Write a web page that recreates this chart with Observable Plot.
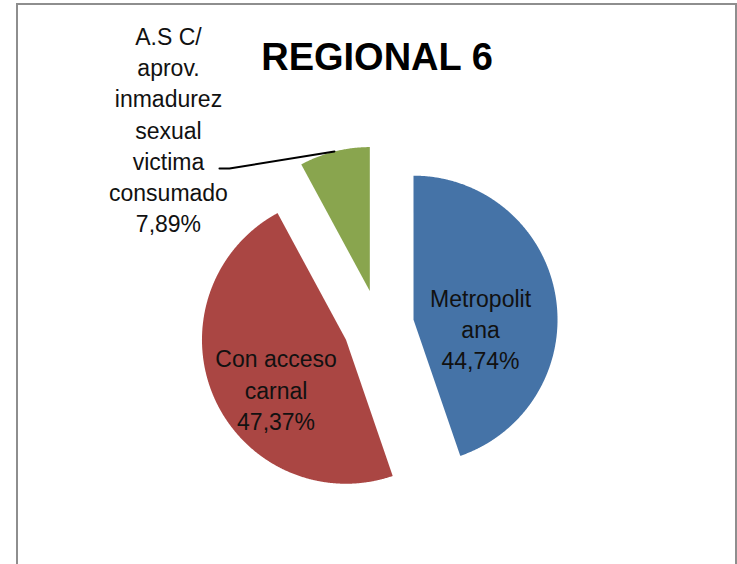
<!DOCTYPE html>
<html><head><meta charset="utf-8">
<script src="https://cdn.jsdelivr.net/npm/d3@7"></script>
<script src="https://cdn.jsdelivr.net/npm/@observablehq/plot@0.6"></script>
<style>
body{margin:0;background:#fff;font-family:"Liberation Sans",Arial,sans-serif;}
#wrap{position:relative;width:737px;height:564px;overflow:hidden;background:#fff;}
#frame{position:absolute;left:16px;top:3px;width:721px;height:640px;border:2px solid #8e8e8e;box-sizing:border-box;pointer-events:none;}
#title{position:absolute;left:0;width:754px;top:38px;text-align:center;font:bold 38px/38px "Liberation Sans",Arial,sans-serif;color:#000;z-index:2;}
#chart{position:absolute;left:0;top:0;}
</style></head><body>
<div id="wrap"><div id="chart"></div><div id="frame"></div><div id="title">REGIONAL 6</div></div>
<script>
// ---- data ----
const categories = ["Metropolitana", "Con acceso carnal", "A.S C/ aprov. inmadurez sexual victima consumado"];
const labelTexts = ["Metropolit\nana", "Con acceso\ncarnal", "A.S C/\naprov.\ninmadurez\nsexual\nvictima\nconsumado"];
const percents = [44.74, 47.37, 7.89];
const percentLabels = ["44,74%", "47,37%", "7,89%"];
const colors = ["#4573A7", "#AA4643", "#89A54E"];

// ---- layout ----
const W = 737, H = 564;
const cx = 378, cy = 325, R = 144, explode = 35.5;
const insideK = 0.5, insideDx = -4, insideDy = 20;
const outsideLabel = {leaderDx: -105, leaderDy: 17, elbow: -10, textDx: -51, textDy: -40};

const rows = categories.map((c, i) => ({cat: c, value: percents[i], label: labelTexts[i] + "\n" + percentLabels[i]}));
const arcs = d3.pie().sort(null).value(d => d.value).startAngle(0)(rows);

const pts = [];
const labels = [];
const leader = [];
arcs.forEach((a, i) => {
  const mid = (a.startAngle + a.endAngle) / 2;
  const ox = cx + explode * Math.sin(mid), oy = cy - explode * Math.cos(mid);
  pts.push({cat: a.data.cat, x: ox, y: oy});
  const n = Math.max(2, Math.ceil((a.endAngle - a.startAngle) / 0.005));
  for (let k = 0; k <= n; k++) {
    const t = a.startAngle + (a.endAngle - a.startAngle) * k / n;
    pts.push({cat: a.data.cat, x: ox + R * Math.sin(t), y: oy - R * Math.cos(t)});
  }
  pts.push({cat: a.data.cat, x: ox, y: oy});
  if (a.data.value > 20) {
    labels.push({x: ox + insideK * R * Math.sin(mid) + insideDx, y: oy - insideK * R * Math.cos(mid) + insideDy, text: a.data.label});
  } else {
    const px = ox + R * Math.sin(mid), py = oy - R * Math.cos(mid);
    const p1 = {x: px + outsideLabel.leaderDx, y: py + outsideLabel.leaderDy};
    const p2 = {x: p1.x + outsideLabel.elbow, y: p1.y};
    leader.push({x: px, y: py}, p1, p2);
    labels.push({x: p2.x + outsideLabel.textDx, y: p2.y + outsideLabel.textDy, text: a.data.label});
  }
});

const chart = Plot.plot({
  width: W, height: H,
  margin: 0,
  x: {domain: [0, W], range: [0, W], axis: null},
  y: {domain: [0, H], range: [0, H], axis: null},
  color: {domain: categories, range: colors},
  style: {background: "transparent"},
  marks: [
    Plot.line(pts, {x: "x", y: "y", z: "cat", fill: "cat", stroke: "none"}),
    Plot.line(leader, {x: "x", y: "y", stroke: "#000", strokeWidth: 2}),
    Plot.text(labels, {x: "x", y: "y", text: "text", textAnchor: "middle", lineAnchor: "middle",
      lineHeight: 1.36, fontSize: 23, fontFamily: "Liberation Sans, Arial, sans-serif", fill: "#111"})
  ]
});
document.getElementById("chart").appendChild(chart);
</script>
</body></html>
